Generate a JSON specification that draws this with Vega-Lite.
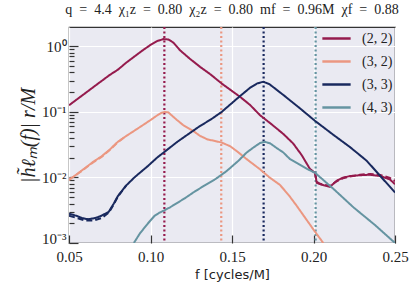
{
  "$schema": "https://vega.github.io/schema/vega-lite/v6.json",
  "width": 326,
  "height": 216,
  "autosize": {"type": "none"},
  "padding": {"left": 69, "top": 27, "right": 21, "bottom": 49},
  "background": "white",
  "title": {"text": "q \u00a0=\u00a0 4.4\u00a0 χ₁z \u00a0=\u00a0 0.80\u00a0 χ₂z \u00a0=\u00a0 0.80\u00a0 mf \u00a0=\u00a0 0.96M\u00a0 χf \u00a0=\u00a0 0.88", "font": "Liberation Serif", "fontSize": 14, "fontWeight": "normal", "color": "#222222", "anchor": "middle", "offset": 6},
  "config": {
    "view": {"fill": "#EAEAF2", "stroke": "#333333", "strokeWidth": 1.2},
    "axis": {"domain": false, "gridColor": "white", "gridWidth": 1.2, "tickColor": "#333333", "tickWidth": 1.2, "labelColor": "#222222", "titleColor": "#222222", "labelFlush": false}
  },
  "datasets": {
    "peaks": [
      {"mode": "(2, 2)", "f": 0.1085},
      {"mode": "(3, 2)", "f": 0.1434},
      {"mode": "(3, 3)", "f": 0.1694},
      {"mode": "(4, 3)", "f": 0.2013}
    ],
    "curves": [
      {"mode": "(2, 2)", "kind": "NR", "f": 0.05, "h": 0.126},
      {"mode": "(2, 2)", "kind": "NR", "f": 0.055, "h": 0.156},
      {"mode": "(2, 2)", "kind": "NR", "f": 0.06, "h": 0.193},
      {"mode": "(2, 2)", "kind": "NR", "f": 0.065, "h": 0.239},
      {"mode": "(2, 2)", "kind": "NR", "f": 0.07, "h": 0.296},
      {"mode": "(2, 2)", "kind": "NR", "f": 0.075, "h": 0.366},
      {"mode": "(2, 2)", "kind": "NR", "f": 0.08, "h": 0.44},
      {"mode": "(2, 2)", "kind": "NR", "f": 0.085, "h": 0.56},
      {"mode": "(2, 2)", "kind": "NR", "f": 0.09, "h": 0.695},
      {"mode": "(2, 2)", "kind": "NR", "f": 0.095, "h": 0.861},
      {"mode": "(2, 2)", "kind": "NR", "f": 0.1, "h": 1.05},
      {"mode": "(2, 2)", "kind": "NR", "f": 0.104, "h": 1.2},
      {"mode": "(2, 2)", "kind": "NR", "f": 0.108, "h": 1.29},
      {"mode": "(2, 2)", "kind": "NR", "f": 0.111, "h": 1.27},
      {"mode": "(2, 2)", "kind": "NR", "f": 0.114, "h": 1.14},
      {"mode": "(2, 2)", "kind": "NR", "f": 0.118, "h": 0.875},
      {"mode": "(2, 2)", "kind": "NR", "f": 0.124, "h": 0.65},
      {"mode": "(2, 2)", "kind": "NR", "f": 0.1304, "h": 0.486},
      {"mode": "(2, 2)", "kind": "NR", "f": 0.137, "h": 0.37},
      {"mode": "(2, 2)", "kind": "NR", "f": 0.1437, "h": 0.27},
      {"mode": "(2, 2)", "kind": "NR", "f": 0.1549, "h": 0.17},
      {"mode": "(2, 2)", "kind": "NR", "f": 0.161, "h": 0.128},
      {"mode": "(2, 2)", "kind": "NR", "f": 0.1672, "h": 0.089},
      {"mode": "(2, 2)", "kind": "NR", "f": 0.1745, "h": 0.064},
      {"mode": "(2, 2)", "kind": "NR", "f": 0.1815, "h": 0.046},
      {"mode": "(2, 2)", "kind": "NR", "f": 0.1875, "h": 0.033},
      {"mode": "(2, 2)", "kind": "NR", "f": 0.1927, "h": 0.022},
      {"mode": "(2, 2)", "kind": "NR", "f": 0.1978, "h": 0.0135},
      {"mode": "(2, 2)", "kind": "NR", "f": 0.2009, "h": 0.0117},
      {"mode": "(2, 2)", "kind": "NR", "f": 0.202, "h": 0.0083},
      {"mode": "(2, 2)", "kind": "NR", "f": 0.204, "h": 0.0079},
      {"mode": "(2, 2)", "kind": "NR", "f": 0.207, "h": 0.0075},
      {"mode": "(2, 2)", "kind": "NR", "f": 0.2101, "h": 0.0072},
      {"mode": "(2, 2)", "kind": "NR", "f": 0.2142, "h": 0.0089},
      {"mode": "(2, 2)", "kind": "NR", "f": 0.218, "h": 0.0099},
      {"mode": "(2, 2)", "kind": "NR", "f": 0.2224, "h": 0.0105},
      {"mode": "(2, 2)", "kind": "NR", "f": 0.2285, "h": 0.0108},
      {"mode": "(2, 2)", "kind": "NR", "f": 0.2347, "h": 0.011},
      {"mode": "(2, 2)", "kind": "NR", "f": 0.241, "h": 0.0105},
      {"mode": "(2, 2)", "kind": "NR", "f": 0.2469, "h": 0.0093},
      {"mode": "(2, 2)", "kind": "NR", "f": 0.25, "h": 0.0079},
      {"mode": "(2, 2)", "kind": "model", "f": 0.2009, "h": 0.0117},
      {"mode": "(2, 2)", "kind": "model", "f": 0.202, "h": 0.0086},
      {"mode": "(2, 2)", "kind": "model", "f": 0.204, "h": 0.008},
      {"mode": "(2, 2)", "kind": "model", "f": 0.207, "h": 0.0077},
      {"mode": "(2, 2)", "kind": "model", "f": 0.2101, "h": 0.0075},
      {"mode": "(2, 2)", "kind": "model", "f": 0.2142, "h": 0.0087},
      {"mode": "(2, 2)", "kind": "model", "f": 0.218, "h": 0.0097},
      {"mode": "(2, 2)", "kind": "model", "f": 0.2224, "h": 0.0103},
      {"mode": "(2, 2)", "kind": "model", "f": 0.2285, "h": 0.011},
      {"mode": "(2, 2)", "kind": "model", "f": 0.2347, "h": 0.0113},
      {"mode": "(2, 2)", "kind": "model", "f": 0.241, "h": 0.0109},
      {"mode": "(2, 2)", "kind": "model", "f": 0.2469, "h": 0.0098},
      {"mode": "(2, 2)", "kind": "model", "f": 0.25, "h": 0.0088},
      {"mode": "(3, 2)", "kind": "NR", "f": 0.05, "h": 0.0091},
      {"mode": "(3, 2)", "kind": "NR", "f": 0.055, "h": 0.0113},
      {"mode": "(3, 2)", "kind": "NR", "f": 0.06, "h": 0.014},
      {"mode": "(3, 2)", "kind": "NR", "f": 0.065, "h": 0.0174},
      {"mode": "(3, 2)", "kind": "NR", "f": 0.07, "h": 0.021},
      {"mode": "(3, 2)", "kind": "NR", "f": 0.075, "h": 0.0266},
      {"mode": "(3, 2)", "kind": "NR", "f": 0.08, "h": 0.035},
      {"mode": "(3, 2)", "kind": "NR", "f": 0.0852, "h": 0.043},
      {"mode": "(3, 2)", "kind": "NR", "f": 0.0903, "h": 0.052},
      {"mode": "(3, 2)", "kind": "NR", "f": 0.095, "h": 0.062},
      {"mode": "(3, 2)", "kind": "NR", "f": 0.1, "h": 0.075},
      {"mode": "(3, 2)", "kind": "NR", "f": 0.104, "h": 0.088},
      {"mode": "(3, 2)", "kind": "NR", "f": 0.1065, "h": 0.096},
      {"mode": "(3, 2)", "kind": "NR", "f": 0.1087, "h": 0.1},
      {"mode": "(3, 2)", "kind": "NR", "f": 0.111, "h": 0.098},
      {"mode": "(3, 2)", "kind": "NR", "f": 0.116, "h": 0.076},
      {"mode": "(3, 2)", "kind": "NR", "f": 0.12, "h": 0.063},
      {"mode": "(3, 2)", "kind": "NR", "f": 0.1263, "h": 0.051},
      {"mode": "(3, 2)", "kind": "NR", "f": 0.1304, "h": 0.043},
      {"mode": "(3, 2)", "kind": "NR", "f": 0.135, "h": 0.038},
      {"mode": "(3, 2)", "kind": "NR", "f": 0.1395, "h": 0.036},
      {"mode": "(3, 2)", "kind": "NR", "f": 0.1437, "h": 0.034},
      {"mode": "(3, 2)", "kind": "NR", "f": 0.1488, "h": 0.03},
      {"mode": "(3, 2)", "kind": "NR", "f": 0.154, "h": 0.024},
      {"mode": "(3, 2)", "kind": "NR", "f": 0.159, "h": 0.019},
      {"mode": "(3, 2)", "kind": "NR", "f": 0.1672, "h": 0.0133},
      {"mode": "(3, 2)", "kind": "NR", "f": 0.173, "h": 0.01},
      {"mode": "(3, 2)", "kind": "NR", "f": 0.1794, "h": 0.0077},
      {"mode": "(3, 2)", "kind": "NR", "f": 0.185, "h": 0.0053},
      {"mode": "(3, 2)", "kind": "NR", "f": 0.19, "h": 0.0036},
      {"mode": "(3, 2)", "kind": "NR", "f": 0.195, "h": 0.0024},
      {"mode": "(3, 2)", "kind": "NR", "f": 0.2, "h": 0.0016},
      {"mode": "(3, 2)", "kind": "NR", "f": 0.206, "h": 0.001},
      {"mode": "(3, 2)", "kind": "model", "f": 0.05, "h": 0.0093},
      {"mode": "(3, 2)", "kind": "model", "f": 0.055, "h": 0.0112},
      {"mode": "(3, 2)", "kind": "model", "f": 0.06, "h": 0.0138},
      {"mode": "(3, 2)", "kind": "model", "f": 0.065, "h": 0.0171},
      {"mode": "(3, 2)", "kind": "model", "f": 0.07, "h": 0.0205},
      {"mode": "(3, 2)", "kind": "model", "f": 0.075, "h": 0.0262},
      {"mode": "(3, 2)", "kind": "model", "f": 0.08, "h": 0.0345},
      {"mode": "(3, 2)", "kind": "model", "f": 0.0852, "h": 0.043},
      {"mode": "(3, 3)", "kind": "NR", "f": 0.05, "h": 0.0028},
      {"mode": "(3, 3)", "kind": "NR", "f": 0.0545, "h": 0.0026},
      {"mode": "(3, 3)", "kind": "NR", "f": 0.058, "h": 0.0024},
      {"mode": "(3, 3)", "kind": "NR", "f": 0.0617, "h": 0.0023},
      {"mode": "(3, 3)", "kind": "NR", "f": 0.066, "h": 0.0024},
      {"mode": "(3, 3)", "kind": "NR", "f": 0.0699, "h": 0.0026},
      {"mode": "(3, 3)", "kind": "NR", "f": 0.0744, "h": 0.003},
      {"mode": "(3, 3)", "kind": "NR", "f": 0.0775, "h": 0.004},
      {"mode": "(3, 3)", "kind": "NR", "f": 0.08, "h": 0.0052},
      {"mode": "(3, 3)", "kind": "NR", "f": 0.085, "h": 0.0075},
      {"mode": "(3, 3)", "kind": "NR", "f": 0.0903, "h": 0.0101},
      {"mode": "(3, 3)", "kind": "NR", "f": 0.0985, "h": 0.015},
      {"mode": "(3, 3)", "kind": "NR", "f": 0.104, "h": 0.02},
      {"mode": "(3, 3)", "kind": "NR", "f": 0.1107, "h": 0.027},
      {"mode": "(3, 3)", "kind": "NR", "f": 0.1165, "h": 0.035},
      {"mode": "(3, 3)", "kind": "NR", "f": 0.1222, "h": 0.044},
      {"mode": "(3, 3)", "kind": "NR", "f": 0.13, "h": 0.06},
      {"mode": "(3, 3)", "kind": "NR", "f": 0.1375, "h": 0.078},
      {"mode": "(3, 3)", "kind": "NR", "f": 0.1437, "h": 0.1},
      {"mode": "(3, 3)", "kind": "NR", "f": 0.1549, "h": 0.174},
      {"mode": "(3, 3)", "kind": "NR", "f": 0.161, "h": 0.232},
      {"mode": "(3, 3)", "kind": "NR", "f": 0.1655, "h": 0.272},
      {"mode": "(3, 3)", "kind": "NR", "f": 0.1692, "h": 0.288},
      {"mode": "(3, 3)", "kind": "NR", "f": 0.173, "h": 0.264},
      {"mode": "(3, 3)", "kind": "NR", "f": 0.1815, "h": 0.181},
      {"mode": "(3, 3)", "kind": "NR", "f": 0.191, "h": 0.117},
      {"mode": "(3, 3)", "kind": "NR", "f": 0.2009, "h": 0.073},
      {"mode": "(3, 3)", "kind": "NR", "f": 0.212, "h": 0.045},
      {"mode": "(3, 3)", "kind": "NR", "f": 0.2224, "h": 0.029},
      {"mode": "(3, 3)", "kind": "NR", "f": 0.2326, "h": 0.018},
      {"mode": "(3, 3)", "kind": "NR", "f": 0.241, "h": 0.0105},
      {"mode": "(3, 3)", "kind": "NR", "f": 0.25, "h": 0.0059},
      {"mode": "(3, 3)", "kind": "model", "f": 0.05, "h": 0.0026},
      {"mode": "(3, 3)", "kind": "model", "f": 0.055, "h": 0.0024},
      {"mode": "(3, 3)", "kind": "model", "f": 0.06, "h": 0.0022},
      {"mode": "(3, 3)", "kind": "model", "f": 0.065, "h": 0.0022},
      {"mode": "(3, 3)", "kind": "model", "f": 0.07, "h": 0.0024},
      {"mode": "(3, 3)", "kind": "model", "f": 0.0744, "h": 0.0029},
      {"mode": "(3, 3)", "kind": "model", "f": 0.0775, "h": 0.0039},
      {"mode": "(3, 3)", "kind": "model", "f": 0.08, "h": 0.0051},
      {"mode": "(3, 3)", "kind": "model", "f": 0.085, "h": 0.0075},
      {"mode": "(4, 3)", "kind": "NR", "f": 0.0898, "h": 0.001},
      {"mode": "(4, 3)", "kind": "NR", "f": 0.0935, "h": 0.0014},
      {"mode": "(4, 3)", "kind": "NR", "f": 0.0985, "h": 0.002},
      {"mode": "(4, 3)", "kind": "NR", "f": 0.1025, "h": 0.0026},
      {"mode": "(4, 3)", "kind": "NR", "f": 0.1055, "h": 0.0029},
      {"mode": "(4, 3)", "kind": "NR", "f": 0.108, "h": 0.0031},
      {"mode": "(4, 3)", "kind": "NR", "f": 0.112, "h": 0.0035},
      {"mode": "(4, 3)", "kind": "NR", "f": 0.1165, "h": 0.0041},
      {"mode": "(4, 3)", "kind": "NR", "f": 0.121, "h": 0.0048},
      {"mode": "(4, 3)", "kind": "NR", "f": 0.1263, "h": 0.0059},
      {"mode": "(4, 3)", "kind": "NR", "f": 0.133, "h": 0.0075},
      {"mode": "(4, 3)", "kind": "NR", "f": 0.14, "h": 0.0095},
      {"mode": "(4, 3)", "kind": "NR", "f": 0.1467, "h": 0.0125},
      {"mode": "(4, 3)", "kind": "NR", "f": 0.154, "h": 0.018},
      {"mode": "(4, 3)", "kind": "NR", "f": 0.159, "h": 0.024},
      {"mode": "(4, 3)", "kind": "NR", "f": 0.1635, "h": 0.029},
      {"mode": "(4, 3)", "kind": "NR", "f": 0.1672, "h": 0.0335},
      {"mode": "(4, 3)", "kind": "NR", "f": 0.1702, "h": 0.035},
      {"mode": "(4, 3)", "kind": "NR", "f": 0.1735, "h": 0.033},
      {"mode": "(4, 3)", "kind": "NR", "f": 0.1775, "h": 0.028},
      {"mode": "(4, 3)", "kind": "NR", "f": 0.1815, "h": 0.024},
      {"mode": "(4, 3)", "kind": "NR", "f": 0.1856, "h": 0.019},
      {"mode": "(4, 3)", "kind": "NR", "f": 0.19, "h": 0.0165},
      {"mode": "(4, 3)", "kind": "NR", "f": 0.196, "h": 0.0135},
      {"mode": "(4, 3)", "kind": "NR", "f": 0.2009, "h": 0.0118},
      {"mode": "(4, 3)", "kind": "NR", "f": 0.2125, "h": 0.0066},
      {"mode": "(4, 3)", "kind": "NR", "f": 0.2245, "h": 0.0035},
      {"mode": "(4, 3)", "kind": "NR", "f": 0.2375, "h": 0.0019},
      {"mode": "(4, 3)", "kind": "NR", "f": 0.25, "h": 0.001}
    ]
  },
  "layer": [
    {
      "data": {"name": "peaks"},
      "mark": {"type": "rule", "strokeDash": [2, 2.5], "strokeWidth": 2.2},
      "encoding": {
        "x": {"field": "f", "type": "quantitative", "scale": {"domain": [0.05, 0.25], "nice": false, "zero": false}},
        "color": {"field": "mode", "type": "nominal"}
      }
    },
    {
      "data": {"name": "curves"},
      "mark": {"type": "line", "strokeWidth": 2, "clip": true},
      "encoding": {
        "x": {
          "field": "f", "type": "quantitative",
          "scale": {"domain": [0.05, 0.25], "nice": false, "zero": false},
          "axis": {
            "values": [0.05, 0.1, 0.15, 0.2, 0.25], "format": ".2f",
            "labelFont": "Liberation Serif", "labelFontSize": 15, "labelPadding": 14, "labelFlush": false,
            "tickSize": -8,
            "title": "f [cycles/M]", "titleFont": "DejaVu Sans", "titleFontSize": 13, "titleFontWeight": "normal", "titlePadding": 4
          }
        },
        "y": {
          "field": "h", "type": "quantitative",
          "scale": {"type": "log", "domain": [0.001, 1.97], "nice": false},
          "axis": {
            "values": [0.001, 0.002, 0.003, 0.004, 0.005, 0.006, 0.007, 0.008, 0.009, 0.01, 0.02, 0.03, 0.04, 0.05, 0.06, 0.07, 0.08, 0.09, 0.1, 0.2, 0.3, 0.4, 0.5, 0.6, 0.7, 0.8, 0.9, 1],
            "labelExpr": "datum.value == 1 ? '10⁰' : datum.value == 0.1 ? '10⁻¹' : datum.value == 0.01 ? '10⁻²' : datum.value == 0.001 ? '10⁻³' : ''",
            "labelFont": "Liberation Serif", "labelFontSize": 15, "labelPadding": 12, "labelFlush": false,
            "labelBaseline": {"condition": {"test": "datum.value == 0.001", "value": "alphabetic"}, "value": "middle"},
            "tickSize": {"condition": {"test": "datum.value == 1 || datum.value == 0.1 || datum.value == 0.01 || datum.value == 0.001", "value": -9}, "value": -5},
            "gridOpacity": {"condition": {"test": "datum.value == 1 || datum.value == 0.1 || datum.value == 0.01 || datum.value == 0.001", "value": 1}, "value": 0},
            "title": "|h̃ℓₘ(f)| r/M", "titleFont": "Liberation Serif", "titleFontStyle": "italic", "titleFontSize": 20, "titleFontWeight": "normal", "titlePadding": 3
          }
        },
        "color": {
          "field": "mode", "type": "nominal",
          "scale": {"domain": ["(2, 2)", "(3, 2)", "(3, 3)", "(4, 3)"], "range": ["#951b4d", "#eb9781", "#19295e", "#6594a1"]},
          "legend": {
            "title": null, "orient": "none", "legendX": 252, "legendY": -4,
            "symbolType": "stroke", "symbolSize": 800, "symbolStrokeWidth": 2.5, "symbolDash": [1, 0],
            "labelFont": "Liberation Serif", "labelFontSize": 14, "labelColor": "#222222", "labelOffset": 10,
            "rowPadding": -8, "padding": 0
          }
        },
        "strokeDash": {
          "field": "kind", "type": "nominal",
          "scale": {"domain": ["NR", "model"], "range": [[1, 0], [6, 3]]},
          "legend": null
        }
      }
    }
  ]
}
